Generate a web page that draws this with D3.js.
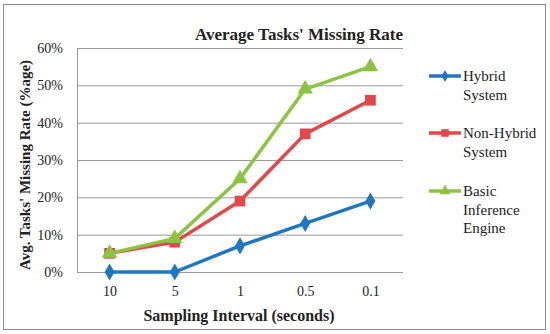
<!DOCTYPE html>
<html>
<head>
<meta charset="utf-8">
<script src="https://cdn.jsdelivr.net/npm/d3@7"></script>
<style>
  body { margin: 0; background: #fff; }
  svg text { font-family: "Liberation Serif", "Times New Roman", serif; fill: #222; }
</style>
</head>
<body>
<div id="chart"></div>
<script>
const categories = ['10', '5', '1', '0.5', '0.1'];
const hybrid = [0, 0, 7, 13, 19];
const nonHybrid = [5, 8, 19, 37, 46];
const basic = [5, 9, 25, 49, 55];
const yTicks = [0, 10, 20, 30, 40, 50, 60];

const series = [
    { name: ['Hybrid', 'System'], values: hybrid, color: '#2077c0', marker: d3.symbolDiamond, size: 85 },
    { name: ['Non-Hybrid', 'System'], values: nonHybrid, color: '#e0484a', marker: d3.symbolSquare, size: 115 },
    { name: ['Basic', 'Inference', 'Engine'], values: basic, color: '#8cc442', marker: d3.symbolTriangle, size: 105 }
];

const width = 550;
const height = 334;
const margin = { top: 48, right: 147, bottom: 62, left: 77 };

const svg = d3.select('#chart')
    .append('svg')
    .attr('width', width)
    .attr('height', height);

// outer frame
svg.append('rect')
    .attr('x', 3.5).attr('y', 4.5)
    .attr('width', 542).attr('height', 325)
    .attr('fill', '#fff')
    .attr('stroke', '#8c8c8c');

const x = d3.scalePoint()
    .domain(categories)
    .range([margin.left, width - margin.right])
    .padding(0.5);

const y = d3.scaleLinear()
    .domain([0, 60])
    .range([height - margin.bottom, margin.top]);

// gridlines + y tick labels
svg.append('g')
    .attr('transform', `translate(${margin.left},0)`)
    .call(d3.axisLeft(y)
        .tickValues(yTicks)
        .tickSize(-(width - margin.right - margin.left))
        .tickFormat(d => d + '%'))
    .call(g => g.select('.domain').remove())
    .call(g => g.selectAll('line').attr('stroke', '#9a9a9a'))
    .call(g => g.selectAll('text')
        .attr('x', -14)
        .attr('font-size', '14px')
        .style('font-family', '"Liberation Serif", serif'));

// y axis line
svg.append('line')
    .attr('x1', margin.left + 0.5).attr('x2', margin.left + 0.5)
    .attr('y1', margin.top).attr('y2', height - margin.bottom)
    .attr('stroke', '#9a9a9a');

// x axis labels
svg.append('g')
    .attr('transform', `translate(0,${height - margin.bottom})`)
    .call(d3.axisBottom(x).tickSize(0).tickPadding(14))
    .call(g => g.select('.domain').remove())
    .call(g => g.selectAll('text')
        .attr('font-size', '14px')
        .style('font-family', '"Liberation Serif", serif'));

const line = d3.line()
    .x((d, i) => x(categories[i]))
    .y(d => y(d));

series.forEach(s => {
    svg.append('path')
        .datum(s.values)
        .attr('fill', 'none')
        .attr('stroke', s.color)
        .attr('stroke-width', 3.5)
        .attr('stroke-linejoin', 'round')
        .attr('d', line);

    svg.append('g').selectAll('path')
        .data(s.values)
        .enter()
        .append('path')
        .attr('transform', (d, i) => `translate(${x(categories[i])},${y(d)})`)
        .attr('d', d3.symbol().type(s.marker).size(s.size))
        .attr('fill', s.color);
});

// legend
const legendY = [76, 133, 191];
series.forEach((s, i) => {
    const g = svg.append('g').attr('transform', `translate(429,${legendY[i]})`);
    g.append('line')
        .attr('x1', 0).attr('x2', 32)
        .attr('stroke', s.color)
        .attr('stroke-width', 3.5);
    g.append('path')
        .attr('transform', 'translate(16,0)')
        .attr('d', d3.symbol().type(s.marker).size(s.size * 0.5))
        .attr('fill', s.color);
    g.selectAll('text')
        .data(s.name)
        .enter()
        .append('text')
        .attr('x', 34)
        .attr('y', (d, j) => j * 18.5)
        .attr('dy', '0.35em')
        .attr('font-size', '15px')
        .text(d => d);
});

// title
svg.append('text')
    .attr('x', 299)
    .attr('y', 40)
    .attr('text-anchor', 'middle')
    .attr('font-size', '17px')
    .attr('font-weight', 'bold')
    .text("Average Tasks' Missing Rate");

// x axis title
svg.append('text')
    .attr('x', 239)
    .attr('y', 321)
    .attr('text-anchor', 'middle')
    .attr('font-size', '16px')
    .attr('font-weight', 'bold')
    .text('Sampling Interval (seconds)');

// y axis title
svg.append('text')
    .attr('transform', 'rotate(-90)')
    .attr('x', -165)
    .attr('y', 30)
    .attr('text-anchor', 'middle')
    .attr('font-size', '15px')
    .attr('font-weight', 'bold')
    .text("Avg. Tasks' Missing Rate (%age)");
</script>
</body>
</html>
